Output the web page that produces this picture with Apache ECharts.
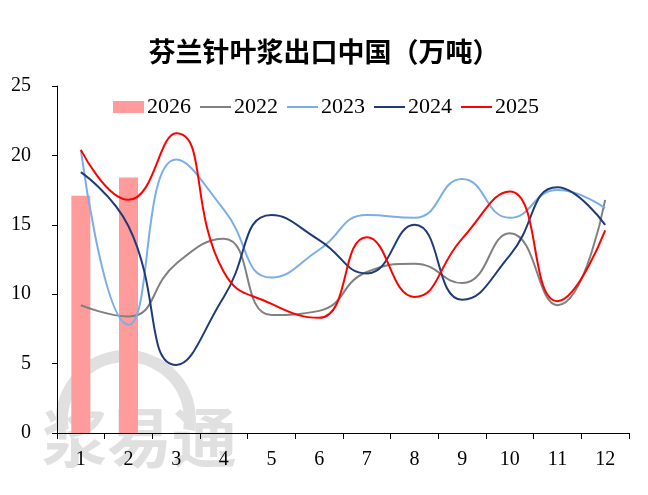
<!DOCTYPE html>
<html>
<head>
<meta charset="utf-8">
<script src="https://cdn.jsdelivr.net/npm/echarts@6/dist/echarts.min.js"></script>
<style>
  html, body { margin: 0; padding: 0; background: #fff; }
  #chart { width: 648px; height: 495px; }
</style>
</head>
<body>
<div id="chart"></div>
<script>
var months = ['1', '2', '3', '4', '5', '6', '7', '8', '9', '10', '11', '12'];
var yTicks = [0, 5, 10, 15, 20, 25];

var v2026 = [17.1, 18.4, null, null, null, null, null, null, null, null, null, null];
var v2022 = [9.2, 8.4, 12.2, 14.0, 8.5, 8.8, 11.6, 12.2, 10.8, 14.4, 9.2, 16.8];
var v2023 = [20.4, 7.8, 19.7, 16.1, 11.2, 13.2, 15.7, 15.5, 18.3, 15.5, 17.5, 16.2];
var v2024 = [18.8, 14.9, 4.9, 9.8, 15.7, 13.9, 11.5, 15.0, 9.6, 12.8, 17.7, 15.0];
var v2025 = [20.4, 16.8, 21.6, 11.6, 9.3, 8.3, 14.1, 9.8, 14.0, 17.4, 9.5, 14.6];

var serif = '"Liberation Serif", "Times New Roman", serif';

function lineSeries(name, data, color) {
    return {
        name: name,
        type: 'line',
        data: data,
        smooth: 0.5,
        symbol: 'none',
        lineStyle: { color: color, width: 2 },
        itemStyle: { color: color },
        z: 3
    };
}

// legend entry for a line: keep the line, hide the dot
function lineLegend(name) {
    return { name: name, itemStyle: { opacity: 0 } };
}

var chart = echarts.init(document.getElementById('chart'), null, { renderer: 'canvas' });

var option = {
    backgroundColor: '#fff',
    animation: false,
    title: {
        text: '芬兰针叶浆出口中国（万吨）',
        left: 'center',
        top: 33,
        textStyle: {
            fontFamily: '"Noto Sans CJK SC", sans-serif',
            fontWeight: 'bold',
            fontSize: 27,
            color: '#000'
        }
    },
    legend: {
        left: 108,
        top: 91,
        itemWidth: 31,
        itemHeight: 12,
        itemGap: 8,
        textStyle: { fontFamily: serif, fontSize: 22, color: '#000', padding: [0, 0, 0, -2] },
        data: [
            { name: '2026', icon: 'rect' },
            lineLegend('2022'),
            lineLegend('2023'),
            lineLegend('2024'),
            lineLegend('2025')
        ]
    },
    grid: { left: 57, right: 19, top: 86, bottom: 62 },
    xAxis: {
        type: 'category',
        data: months,
        boundaryGap: true,
        axisLine: { lineStyle: { color: '#000', width: 1 } },
        axisTick: { show: true, length: 6, lineStyle: { color: '#000' } },
        axisLabel: { fontFamily: serif, fontSize: 20, color: '#000', margin: 17 }
    },
    yAxis: {
        type: 'value',
        min: yTicks[0],
        max: yTicks[yTicks.length - 1],
        interval: 5,
        splitLine: { show: false },
        axisLine: { show: true, lineStyle: { color: '#000', width: 1 } },
        axisTick: { show: true, length: 5, lineStyle: { color: '#000' } },
        axisLabel: { fontFamily: serif, fontSize: 20, color: '#000', margin: 26 }
    },
    graphic: [
        {
            type: 'arc',
            z: -10,
            shape: { cx: 126, cy: 420, r: 64, startAngle: Math.PI * 0.95, endAngle: Math.PI * 2.05, clockwise: true },
            style: { stroke: '#e0e0e0', lineWidth: 12, fill: null }
        },
        {
            type: 'text',
            z: -10,
            left: 42,
            top: 405,
            style: {
                text: '浆易通',
                fontFamily: '"Noto Sans CJK SC", sans-serif',
                fontWeight: 'bold',
                fontSize: 65,
                fill: '#e0e0e0'
            }
        }
    ],
    series: [
        {
            name: '2026',
            type: 'bar',
            data: v2026,
            barWidth: 19,
            itemStyle: { color: '#ff9b9b' },
            z: 2
        },
        lineSeries('2022', v2022, '#808080'),
        lineSeries('2023', v2023, '#7aaee8'),
        lineSeries('2024', v2024, '#1f3a78'),
        lineSeries('2025', v2025, '#ff0000')
    ]
};

chart.setOption(option);
</script>
</body>
</html>
